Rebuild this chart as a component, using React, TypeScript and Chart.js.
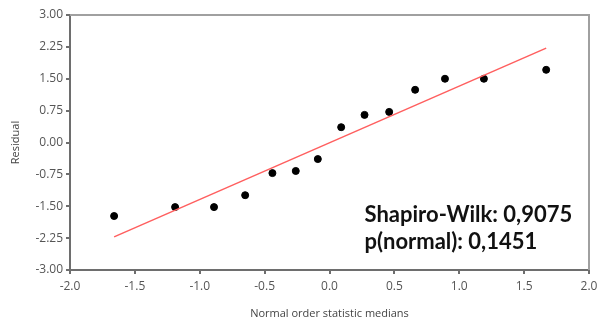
import React, { useEffect, useRef } from "react";
import { Chart, registerables } from "chart.js";

Chart.register(...registerables);

const medians = [-1.66, -1.19, -0.89, -0.65, -0.44, -0.26, -0.09, 0.09, 0.27, 0.46, 0.66, 0.89, 1.19, 1.67];
const residuals = [-1.73, -1.52, -1.52, -1.24, -0.72, -0.67, -0.39, 0.36, 0.65, 0.72, 1.24, 1.5, 1.5, 1.71];
const fitX = [-1.66, 1.67];
const fitY = [-2.22, 2.22];
const statLines = ["Shapiro-Wilk: 0,9075", "p(normal): 0,1451"];
const xTitle = "Normal order statistic medians";
const yTitle = "Residual";

export default function App() {
  const ref = useRef<HTMLCanvasElement | null>(null);
  useEffect(() => {
    if (!ref.current) return;
    const boxPlugin = {
      id: "boxAndText",
      afterDraw(chart: any) {
        const { ctx, chartArea } = chart;
        ctx.save();
        ctx.strokeStyle = "#a0a0a0";
        ctx.lineWidth = 2;
        ctx.beginPath();
        ctx.moveTo(chartArea.left, chartArea.top);
        ctx.lineTo(chartArea.right, chartArea.top);
        ctx.lineTo(chartArea.right, chartArea.bottom);
        ctx.stroke();
        ctx.fillStyle = "#111";
        ctx.font = "bold 22px Lato";
        ctx.textAlign = "left";
        ctx.textBaseline = "middle";
        const x0 = chart.scales.x.getPixelForValue(0.27);
        ctx.fillText(statLines[0], x0, chart.scales.y.getPixelForValue(-1.7));
        ctx.fillText(statLines[1], x0, chart.scales.y.getPixelForValue(-2.35));
        ctx.restore();
      },
    };
    const chart = new Chart(ref.current, {
      type: "scatter",
      data: {
        datasets: [
          {
            type: "line",
            data: fitX.map((x, i) => ({ x, y: fitY[i] })),
            borderColor: "rgb(255,95,95)",
            borderWidth: 1.5,
            pointRadius: 0,
            fill: false,
          } as any,
          {
            data: medians.map((x, i) => ({ x, y: residuals[i] })),
            backgroundColor: "#000",
            borderColor: "#000",
            pointRadius: 3.5,
          },
        ],
      },
      options: {
        responsive: false,
        animation: false,
        devicePixelRatio: 1,
        layout: { padding: { left: 0, right: 9, top: 15, bottom: 0 } },
        plugins: { legend: { display: false }, tooltip: { enabled: false } },
        scales: {
          x: {
            type: "linear",
            min: -2,
            max: 2,
            afterFit: (s: any) => { s.height = 55; s.paddingRight = 0; s.paddingLeft = 0; },
            ticks: {
              stepSize: 0.5,
              callback: (v: any) => Number(v).toFixed(1),
              color: "#555",
              font: { family: "Open Sans", size: 12 },
              padding: 5,
            },
            grid: { drawOnChartArea: false, drawTicks: true, tickLength: 4, color: "#6e6e6e", lineWidth: 2 },
            border: { color: "#6e6e6e", width: 2 },
            title: {
              display: true,
              text: xTitle,
              color: "#444",
              font: { family: "Open Sans", size: 11 },
              padding: { top: 0, bottom: 5 },
            },
          },
          y: {
            type: "linear",
            min: -3,
            max: 3,
            afterFit: (s: any) => { s.width = 70; s.paddingTop = 0; s.paddingBottom = 0; },
            ticks: {
              stepSize: 0.75,
              callback: (v: any) => Number(v).toFixed(2),
              color: "#555",
              font: { family: "Open Sans", size: 12 },
              padding: 3,
            },
            grid: { drawOnChartArea: false, drawTicks: true, tickLength: 4, color: "#6e6e6e", lineWidth: 2 },
            border: { color: "#6e6e6e", width: 2 },
            title: {
              display: true,
              text: yTitle,
              color: "#444",
              font: { family: "Open Sans", size: 11 },
              padding: { top: 9, bottom: 0 },
            },
          },
        },
      },
      plugins: [boxPlugin],
    });
    return () => chart.destroy();
  }, []);
  return (
    <div style={{ position: "fixed", left: 0, top: 0, width: 598, height: 325, background: "#fff" }}>
      <canvas ref={ref} width={598} height={325} />
    </div>
  );
}
